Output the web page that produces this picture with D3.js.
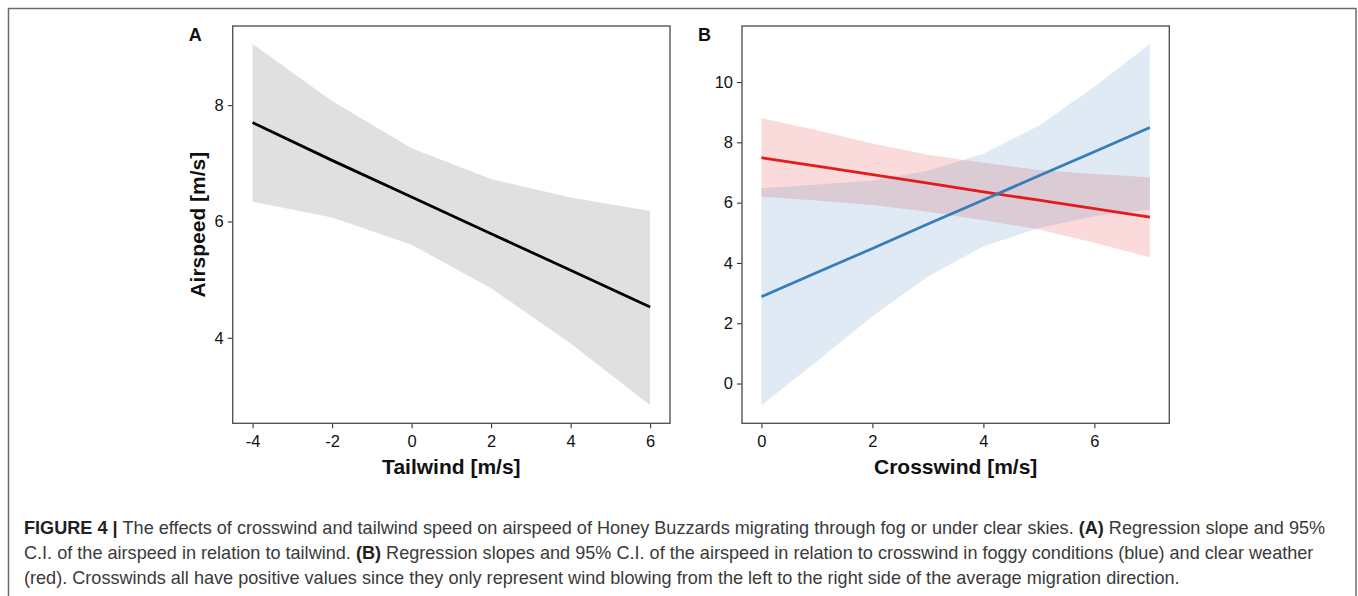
<!DOCTYPE html>
<html>
<head>
<meta charset="utf-8">
<script src="https://cdn.jsdelivr.net/npm/d3@7"></script>
<style>
  body { margin: 0; background: #fff; }
  svg { display: block; font-family: "Liberation Sans", Arial, sans-serif; }
  .axis-title { font-size: 21px; font-weight: bold; fill: #111; }
  .panel-tag { font-size: 18px; font-weight: bold; fill: #111; }
  .caption { font-size: 18.1px; fill: #3a3a3a; }
  .caption .b { font-weight: bold; fill: #222; }
</style>
</head>
<body>
<svg id="chart" width="1358" height="596"></svg>
<script>
// panel A: airspeed vs tailwind
const tailX = [-4, -2, 0, 2, 4, 6]
const tailFit = [7.70, 7.05, 6.42, 5.79, 5.16, 4.53]
const tailUpper = [9.05, 8.07, 7.26, 6.73, 6.41, 6.18]
const tailLower = [6.34, 6.07, 5.60, 4.85, 3.90, 2.84]
const tailXTicks = [-4, -2, 0, 2, 4, 6]
const tailYTicks = [4, 6, 8]

// panel B: airspeed vs crosswind, fog (blue) and clear (red)
const crossX = [0, 1, 2, 3, 4, 5, 6, 7]
const fogFit = [2.88, 3.68, 4.48, 5.29, 6.09, 6.89, 7.69, 8.49]
const fogUpper = [6.48, 6.60, 6.73, 7.06, 7.62, 8.55, 9.84, 11.26]
const fogLower = [-0.72, 0.74, 2.23, 3.55, 4.55, 5.16, 5.55, 5.77]
const clearFit = [7.49, 7.21, 6.93, 6.65, 6.36, 6.08, 5.80, 5.52]
const clearUpper = [8.80, 8.40, 7.96, 7.59, 7.32, 7.08, 6.95, 6.84]
const clearLower = [6.20, 6.07, 5.92, 5.70, 5.42, 5.11, 4.67, 4.19]
const crossXTicks = [0, 2, 4, 6]
const crossYTicks = [0, 2, 4, 6, 8, 10]

const svg = d3.select('#chart')

// outer figure frame (bottom runs off the page)
svg.append('rect')
    .attr('x', 8.5).attr('y', 8.5)
    .attr('width', 1347.5).attr('height', 620)
    .attr('fill', 'none')
    .attr('stroke', '#6b6b6b')
    .attr('stroke-width', 1.5)

// ggplot style 5% expansion of the data range
let expand = (lo, hi) => {
  let pad = (hi - lo) * 0.05
  return [lo - pad, hi + pad]
}

function drawPanel (opts) {
  let {left, top, width, height, xDomain, yDomain, xTicks, yTicks, tag, xTitle, yTitle} = opts
  let g = svg.append('g').attr('transform', `translate(${left},${top})`)

  let x = d3.scaleLinear().domain(xDomain).range([0, width])
  let y = d3.scaleLinear().domain(yDomain).range([height, 0])

  // ribbons first, then lines on top
  opts.bands.forEach(b => {
    let area = d3.area()
      .x((d, i) => x(b.xs[i]))
      .y0((d, i) => y(b.lower[i]))
      .y1((d, i) => y(b.upper[i]))
    g.append('path')
        .datum(b.xs)
        .attr('d', area)
        .attr('fill', b.fill)
        .attr('fill-opacity', b.opacity)
  })
  opts.lines.forEach(l => {
    let line = d3.line()
      .x((d, i) => x(l.xs[i]))
      .y(d => y(d))
    g.append('path')
        .datum(l.ys)
        .attr('d', line)
        .attr('fill', 'none')
        .attr('stroke', l.color)
        .attr('stroke-width', 2.8)
  })

  // axes
  let fmt = d => d < 0 ? '-' + Math.abs(d) : String(d)
  let xAxis = g.append('g')
      .attr('transform', `translate(0,${height})`)
      .call(d3.axisBottom(x).tickValues(xTicks).tickFormat(fmt).tickSize(5).tickPadding(6.5))
  let yAxis = g.append('g')
      .call(d3.axisLeft(y).tickValues(yTicks).tickFormat(fmt).tickSize(5).tickPadding(4))
  ;[xAxis, yAxis].forEach(a => {
    a.attr('font-size', 16.5).attr('font-family', null)
    a.select('.domain').remove()
    a.selectAll('.tick line').attr('stroke', '#333').attr('stroke-width', 1.1)
    a.selectAll('.tick text').attr('fill', '#111')
  })

  // panel border
  g.append('rect')
      .attr('width', width).attr('height', height)
      .attr('fill', 'none')
      .attr('stroke', '#555')
      .attr('stroke-width', 1.4)

  g.append('text')
      .classed('axis-title', true)
      .attr('x', width / 2)
      .attr('y', height + 51)
      .attr('text-anchor', 'middle')
      .text(xTitle)

  if (yTitle) {
    g.append('text')
        .classed('axis-title', true)
        .attr('transform', `translate(-28,${height / 2}) rotate(-90)`)
        .attr('text-anchor', 'middle')
        .text(yTitle)
  }

  g.append('text')
      .classed('panel-tag', true)
      .attr('x', -44)
      .attr('y', 15)
      .text(tag)
}

drawPanel({
  left: 232.7, top: 26, width: 437.3, height: 397.3,
  xDomain: expand(-4, 6),
  yDomain: expand(d3.min(tailLower), d3.max(tailUpper)),
  xTicks: tailXTicks, yTicks: tailYTicks,
  tag: 'A', xTitle: 'Tailwind [m/s]', yTitle: 'Airspeed [m/s]',
  bands: [{xs: tailX, upper: tailUpper, lower: tailLower, fill: '#e0e0e0', opacity: 1}],
  lines: [{xs: tailX, ys: tailFit, color: '#000'}]
})

drawPanel({
  left: 742, top: 26, width: 427.3, height: 397.3,
  xDomain: expand(0, 7),
  yDomain: expand(d3.min(fogLower), d3.max(fogUpper)),
  xTicks: crossXTicks, yTicks: crossYTicks,
  tag: 'B', xTitle: 'Crosswind [m/s]', yTitle: null,
  bands: [
    {xs: crossX, upper: clearUpper, lower: clearLower, fill: '#e41a1c', opacity: 0.16},
    {xs: crossX, upper: fogUpper, lower: fogLower, fill: '#377eb8', opacity: 0.16}
  ],
  lines: [
    {xs: crossX, ys: clearFit, color: '#e41a1c'},
    {xs: crossX, ys: fogFit, color: '#377eb8'}
  ]
})

// caption
const captionLines = [
  [['b', 'FIGURE 4 | '], ['', 'The effects of crosswind and tailwind speed on airspeed of Honey Buzzards migrating through fog or under clear skies. '], ['b', '(A)'], ['', ' Regression slope and 95%']],
  [['', 'C.I. of the airspeed in relation to tailwind. '], ['b', '(B)'], ['', ' Regression slopes and 95% C.I. of the airspeed in relation to crosswind in foggy conditions (blue) and clear weather']],
  [['', '(red). Crosswinds all have positive values since they only represent wind blowing from the left to the right side of the average migration direction.']]
]

let cap = svg.append('text')
    .classed('caption', true)
    .attr('x', 24)
    .attr('y', 534)
captionLines.forEach((parts, i) => {
  parts.forEach(([cls, str], j) => {
    let t = cap.append('tspan').text(str)
    if (cls) t.classed(cls, true)
    if (j === 0) t.attr('x', 24).attr('dy', i === 0 ? 0 : 25)
  })
})
</script>
</body>
</html>
